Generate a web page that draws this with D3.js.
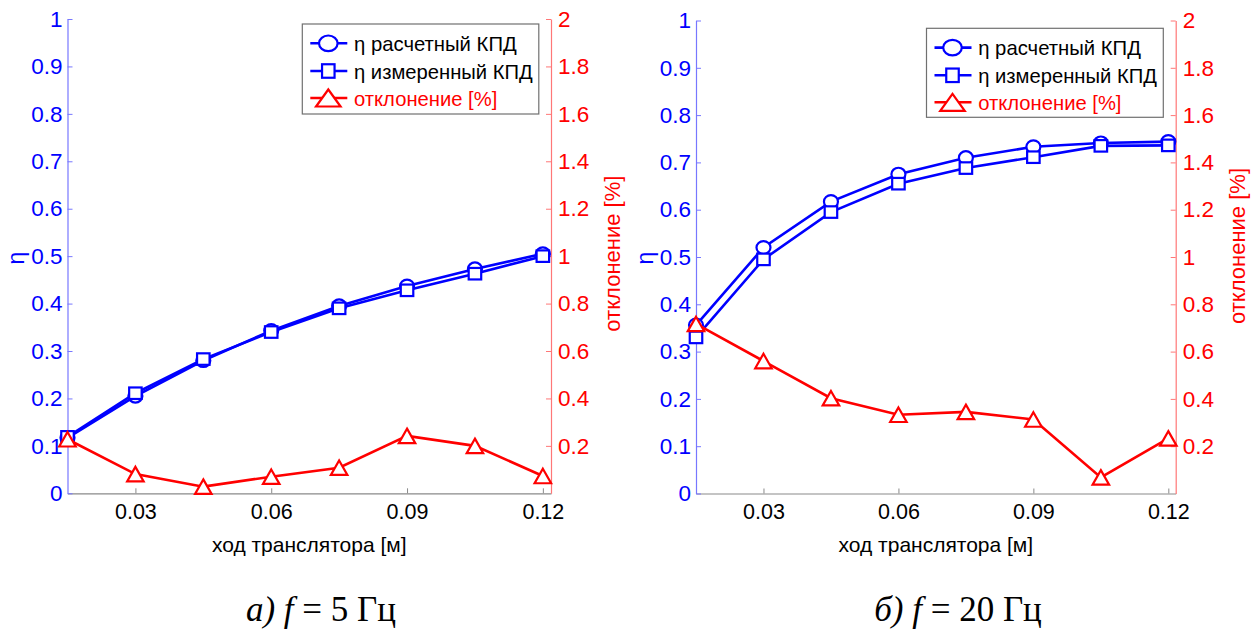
<!DOCTYPE html>
<html><head><meta charset="utf-8">
<script src="https://cdn.jsdelivr.net/npm/d3@7"></script>
<style>
html,body{margin:0;padding:0;background:#fff;}
svg{display:block;}
</style></head>
<body>
<svg id="chart" width="1254" height="632"></svg>
<script>
// ---- data ----
const xStroke = [0.015, 0.03, 0.045, 0.06, 0.075, 0.09, 0.105, 0.12];
const etaCalcA = [0.117, 0.205, 0.280, 0.343, 0.395, 0.437, 0.473, 0.505];
const etaMeasA = [0.119, 0.211, 0.283, 0.340, 0.390, 0.428, 0.463, 0.500];
const devA     = [0.228, 0.081, 0.028, 0.070, 0.108, 0.242, 0.200, 0.073];
const etaCalcB = [0.356, 0.520, 0.617, 0.675, 0.710, 0.733, 0.741, 0.744];
const etaMeasB = [0.330, 0.495, 0.595, 0.655, 0.688, 0.711, 0.735, 0.736];
const devB     = [0.717, 0.560, 0.403, 0.333, 0.345, 0.313, 0.068, 0.233];
const etaTicks = [0, 0.1, 0.2, 0.3, 0.4, 0.5, 0.6, 0.7, 0.8, 0.9, 1];
const devTicks = [0.2, 0.4, 0.6, 0.8, 1, 1.2, 1.4, 1.6, 1.8, 2];
const xTicks   = [0.03, 0.06, 0.09, 0.12];
const legendLabels = ["η расчетный КПД", "η измеренный КПД", "отклонение [%]"];
const xLabel = "ход транслятора [м]";
const yLabel = "η";
const y2Label = "отклонение [%]";
const captions = [["а)", "f", " = 5 Гц"], ["б)", "f", " = 20 Гц"]];

const svg = d3.select("#chart");
const FONT = "'Liberation Sans', Arial, sans-serif";
const fmt = d => String(+d.toFixed(2));

const panels = [
  {x0: 67.5, x1: 551, xMax: 0.1218, yTop: 19, yBot: 493.3, calc: etaCalcA, meas: etaMeasA, dev: devA,
   leg: {x: 302.3, y: 24, w: 236.5, h: 90}, cap: captions[0], capX: 321, y2Off: -2.5},
  {x0: 696, x1: 1175.7, xMax: 0.12164, yTop: 20.5, yBot: 493.5, calc: etaCalcB, meas: etaMeasB, dev: devB,
   leg: {x: 926.5, y: 28.3, w: 236.8, h: 89}, cap: captions[1], capX: 958, y2Off: -11}
];

const triPath = (cx, cy, w, h) => `M${cx},${cy - h / 2}L${cx + w / 2},${cy + h / 2}L${cx - w / 2},${cy + h / 2}Z`;

function marker(g, type, cx, cy, color, big) {
  const k = big ? 1 : 0;
  if (type === "circle") {
    g.append("ellipse").attr("cx", cx).attr("cy", cy).attr("rx", big ? 9.3 : 7).attr("ry", big ? 7.8 : 6.5)
      .attr("fill", "#fff").attr("stroke", color).attr("stroke-width", 2.2);
  } else if (type === "square") {
    const w = big ? 12.5 : 12.5, h = big ? 13.5 : 11.5;
    g.append("rect").attr("x", cx - w / 2).attr("y", cy - h / 2).attr("width", w).attr("height", h)
      .attr("fill", "#fff").attr("stroke", color).attr("stroke-width", 2.2);
  } else {
    g.append("path").attr("d", big ? triPath(cx, cy, 24.5, 17) : triPath(cx, cy, 16.5, 14.5))
      .attr("fill", "#fff").attr("stroke", color).attr("stroke-width", 2.2);
  }
}

panels.forEach(p => {
  const g = svg.append("g");
  const x = d3.scaleLinear().domain([0.015, p.xMax]).range([p.x0, p.x1]);
  const y = d3.scaleLinear().domain([0, 1]).range([p.yBot, p.yTop]);
  const y2 = d3.scaleLinear().domain([0, 2]).range([p.yBot, p.yTop]);

  // bottom axis
  const ax = g.append("g").attr("transform", `translate(0,${p.yBot})`)
    .call(d3.axisBottom(x).tickValues(xTicks).tickFormat(fmt).tickSize(-5).tickSizeOuter(0).tickPadding(10));
  ax.select(".domain").attr("stroke", "#8a8a8a").attr("stroke-width", 1.2);
  ax.selectAll(".tick line").attr("stroke", "#8a8a8a");
  ax.selectAll(".tick text").attr("fill", "#000").style("font-family", FONT).style("font-size", "21.5px");

  // left axis
  const ay = g.append("g").attr("transform", `translate(${p.x0},0)`)
    .call(d3.axisLeft(y).tickValues(etaTicks).tickFormat(fmt).tickSize(-5).tickSizeOuter(0).tickPadding(5));
  ay.select(".domain").attr("stroke", "#7777ff").attr("stroke-width", 1.2);
  ay.selectAll(".tick line").attr("stroke", "#7777ff");
  ay.selectAll(".tick text").attr("fill", "#0000ff").style("font-family", FONT).style("font-size", "22.5px");

  // right axis
  const ay2 = g.append("g").attr("transform", `translate(${p.x1},0)`)
    .call(d3.axisRight(y2).tickValues(devTicks).tickFormat(fmt).tickSize(-5).tickSizeOuter(0).tickPadding(7));
  ay2.select(".domain").attr("stroke", "#ff7777").attr("stroke-width", 1.2);
  ay2.selectAll(".tick line").attr("stroke", "#ff7777");
  ay2.selectAll(".tick text").attr("fill", "#ff0000").style("font-family", FONT).style("font-size", "22.5px");

  // axis labels
  g.append("text").attr("x", (p.x0 + p.x1) / 2).attr("y", 552).attr("text-anchor", "middle")
    .style("font-family", FONT).style("font-size", "21px").attr("fill", "#000").text(xLabel);
  g.append("text").attr("transform", `translate(${p.x0 - 50},${258}) rotate(-90)`)
    .attr("text-anchor", "middle").attr("dy", "0.3em").style("font-family", FONT).style("font-size", "23px")
    .attr("fill", "#0000ff").text(yLabel);
  g.append("text").attr("transform", `translate(${p.x1 + 61},${(p.yTop + p.yBot) / 2 + p.y2Off}) rotate(-90)`)
    .attr("text-anchor", "middle").attr("dy", "0.36em").style("font-family", FONT).style("font-size", "22px")
    .attr("fill", "#ff0000").text(y2Label);

  const line = d3.line();
  const calcPts = xStroke.map((v, i) => [x(v), y(p.calc[i])]);
  const measPts = xStroke.map((v, i) => [x(v), y(p.meas[i])]);
  const devPts = xStroke.map((v, i) => [x(v), y2(p.dev[i])]);

  [[calcPts, "#0000ff", "circle"], [measPts, "#0000ff", "square"], [devPts, "#ff0000", "tri"]].forEach(([pts, col, m]) => {
    g.append("path").attr("d", line(pts)).attr("fill", "none").attr("stroke", col).attr("stroke-width", 2.6);
    const mg = g.append("g");
    pts.forEach(([cx, cy]) => marker(mg, m, cx, cy, col, false));
  });

  // legend
  const L = p.leg;
  const lg = g.append("g");
  lg.append("rect").attr("x", L.x).attr("y", L.y).attr("width", L.w).attr("height", L.h)
    .attr("fill", "#fff").attr("stroke", "#707070").attr("stroke-width", 1.2);
  const cols = ["#0000ff", "#0000ff", "#ff0000"];
  const marks = ["circle", "square", "tri"];
  const rowOff = [19.3, 47, 74];
  const tLen = [162.7, 178.7, 143.3];
  legendLabels.forEach((t, i) => {
    const cy = L.y + rowOff[i];
    lg.append("line").attr("x1", L.x + 8).attr("x2", L.x + 45).attr("y1", cy).attr("y2", cy)
      .attr("stroke", cols[i]).attr("stroke-width", 2.6);
    marker(lg, marks[i], L.x + 26, cy, cols[i], true);
    lg.append("text").attr("x", L.x + 51.7).attr("y", cy).attr("dy", "0.36em")
      .style("font-family", FONT).style("font-size", "21px").attr("fill", i < 2 ? "#000" : "#ff0000")
      .attr("textLength", tLen[i]).attr("lengthAdjust", "spacingAndGlyphs")
      .text(t);
  });

  // caption
  const ct = g.append("text").attr("x", p.capX).attr("y", 621).attr("text-anchor", "middle")
    .style("font-family", "'Liberation Serif', 'Times New Roman', serif").style("font-size", "35px").attr("fill", "#000");
  ct.append("tspan").style("font-style", "italic").text(p.cap[0] + " ");
  ct.append("tspan").style("font-style", "italic").text(p.cap[1]);
  ct.append("tspan").text(p.cap[2]);
});
</script>
</body></html>
